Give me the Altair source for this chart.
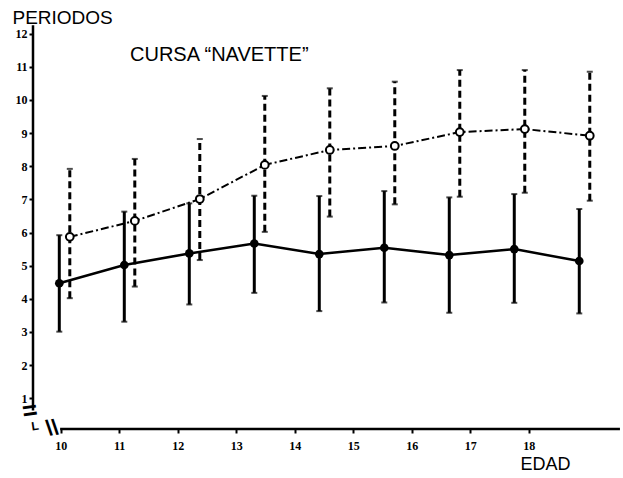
import altair as alt
import pandas as pd

# ---- data ----
ages = [10, 11, 12, 13, 14, 15, 16, 17, 18]
solid_mean = [4.47, 5.02, 5.37, 5.67, 5.35, 5.54, 5.32, 5.50, 5.14]
solid_hi = [5.92, 6.63, 6.88, 7.11, 7.10, 7.25, 7.06, 7.16, 6.71]
solid_lo = [3.01, 3.31, 3.83, 4.18, 3.63, 3.89, 3.58, 3.88, 3.56]
open_mean = [5.87, 6.35, 7.01, 8.04, 8.49, 8.61, 9.03, 9.12, 8.92]
open_hi = [7.92, 8.22, 8.82, 10.12, 10.35, 10.55, 10.90, 10.90, 10.85]
open_lo = [4.02, 4.37, 5.17, 6.02, 6.48, 6.85, 7.08, 7.20, 6.96]
x_ticks = [10, 11, 12, 13, 14, 15, 16, 17, 18]
y_ticks = [1, 2, 3, 4, 5, 6, 7, 8, 9, 10, 11, 12]
title_text = "CURSA  \u201cNAVETTE\u201d"

W, H = 588, 407
DATA_X = [9.5954, 18.642]
AXIS_X = [9.5265, 19.578]
Y_DOM = [0.074, 12.35]

solid = pd.DataFrame({"age": ages, "mean": solid_mean, "lo": solid_lo, "hi": solid_hi})
opn = pd.DataFrame({"age": ages, "mean": open_mean, "lo": open_lo, "hi": open_hi})

Y_AXIS = alt.Axis(values=y_ticks, title="PERIODOS", domain=False, grid=False,
                  tickSize=4, tickWidth=2, tickColor="black", labelPadding=2,
                  labelFont="Liberation Serif", labelFontWeight="bold", labelFontSize=12,
                  labelColor="black", format="d",
                  titleFont="Liberation Sans", titleFontSize=19, titleFontWeight="normal",
                  titleColor="black", titleAngle=0, titleAlign="left",
                  titleBaseline="alphabetic", titleX=-21, titleY=1, titleAnchor="start")


def xd(field="age"):
    return alt.X(f"{field}:Q", scale=alt.Scale(domain=DATA_X, nice=False, zero=False), axis=None)


def xa(field="x"):
    return alt.X(f"{field}:Q", scale=alt.Scale(domain=AXIS_X, nice=False, zero=False), axis=None)


def yq(field):
    return alt.Y(f"{field}:Q", scale=alt.Scale(domain=Y_DOM, nice=False, zero=False), axis=Y_AXIS)


OFF = 10.5

# solid series
s_bars = alt.Chart(solid).mark_rule(color="black", strokeWidth=3).encode(
    x=xd(), y=yq("lo"), y2="hi")
s_caps = alt.Chart(solid).transform_fold(["lo", "hi"], as_=["k", "v"]).mark_tick(
    orient="horizontal", color="black", size=6, thickness=2).encode(x=xd(), y=yq("v"))
s_line = alt.Chart(solid).mark_line(color="black", strokeWidth=2.5).encode(x=xd(), y=yq("mean"))
s_pts = alt.Chart(solid).mark_point(shape="circle", filled=True, color="black", size=75, opacity=1).encode(
    x=xd(), y=yq("mean"))

# open series (dashed)
o_bars = alt.Chart(opn).mark_rule(color="black", strokeWidth=3, strokeDash=[7, 4], xOffset=OFF).encode(
    x=xd(), y=yq("lo"), y2="hi")
o_caps = alt.Chart(opn).transform_fold(["lo", "hi"], as_=["k", "v"]).mark_tick(
    orient="horizontal", color="black", size=6, thickness=2, xOffset=OFF).encode(x=xd(), y=yq("v"))
o_line = alt.Chart(opn).mark_line(color="black", strokeWidth=2, strokeDash=[8, 3, 2, 3], xOffset=OFF).encode(
    x=xd(), y=yq("mean"))
o_pts = alt.Chart(opn).mark_point(shape="circle", filled=True, fill="white", stroke="black",
                                  strokeWidth=2, size=60, opacity=1, xOffset=OFF).encode(
    x=xd(), y=yq("mean"))

# axes
xaxis_df = pd.DataFrame({"x": [9.99], "x2": [19.56], "y": [Y_DOM[0]]})
x_axis = alt.Chart(xaxis_df).mark_rule(color="black", strokeWidth=2.5).encode(
    x=alt.X("x:Q", scale=alt.Scale(domain=AXIS_X, nice=False, zero=False),
            axis=alt.Axis(values=x_ticks, orient="bottom", title="EDAD", domain=False, grid=False,
                          tickSize=4, tickWidth=2, tickColor="black", labelPadding=7,
                          labelFont="Liberation Serif", labelFontWeight="bold", labelFontSize=12,
                          labelColor="black", format="d",
                          titleFont="Liberation Sans", titleFontSize=18, titleFontWeight="normal",
                          titleColor="black", titleAlign="left", titleBaseline="alphabetic",
                          titleX=487, titleY=40, titleAnchor="start")),
    x2="x2",
    y=yq("y"),
)

yaxis_df = pd.DataFrame({"x": [DATA_X[0]], "y": [0.63], "y2": [12.25]})
y_axis = alt.Chart(yaxis_df).mark_rule(color="black", strokeWidth=2.5).encode(
    x=xd("x"), y=yq("y"), y2="y2")

# break marks and labels
brk_df = pd.DataFrame({"x": [9.475, 9.561, 9.851], "y": [0.617, 0.165, 0.104],
                       "t": ["=", "L", "\\\\"], "sz": [26, 12, 22]})
brk = alt.Chart(brk_df).mark_text(color="black", fontWeight="bold", font="Liberation Sans",
                                  align="center", baseline="middle", angle=352).encode(
    x=xa("x"), y=yq("y"), text="t:N", size=alt.Size("sz:Q", scale=None, legend=None))

title_df = pd.DataFrame({"x": [11.088], "y": [11.17], "t": [title_text]})
title = alt.Chart(title_df).mark_text(color="black", font="Liberation Sans", fontSize=20,
                                      align="left", baseline="alphabetic").encode(
    x=xd("x"), y=yq("y"), text="t:N")

chart = alt.layer(
    x_axis, y_axis, s_bars, s_caps, o_bars, o_caps, o_line, s_line, s_pts, o_pts, brk, title
).resolve_scale(x="independent").properties(
    width=W, height=H,
    autosize=alt.AutoSizeParams(type="none"),
    padding={"left": 33, "top": 22, "right": 2, "bottom": 49},
    background="white",
).configure_view(stroke=None)

chart.save("out.html", embed_options={"renderer": "svg", "actions": False})
